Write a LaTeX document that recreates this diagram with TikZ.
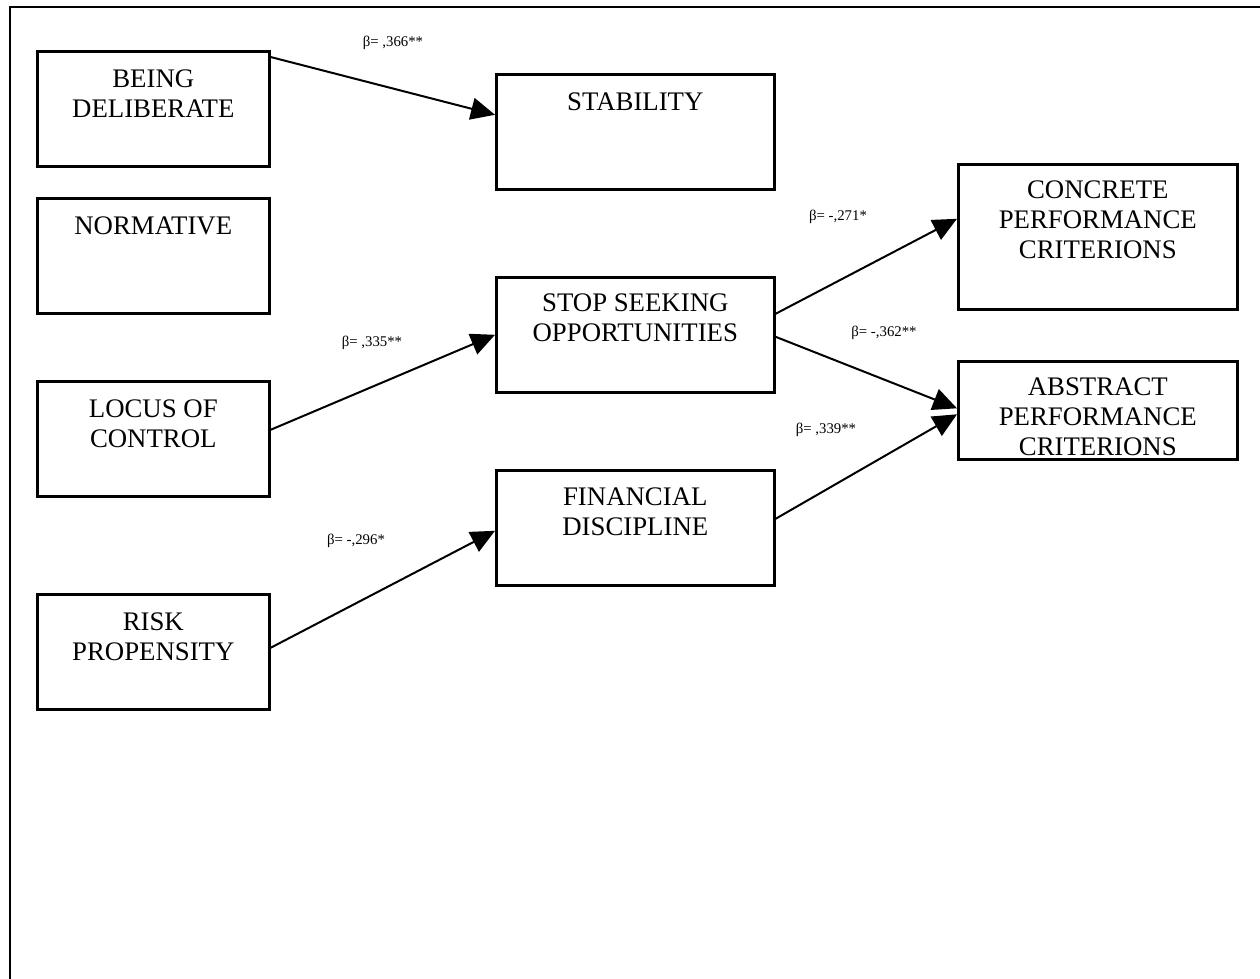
\documentclass[tikz,border=0pt]{standalone}
\usepackage{fontspec}
\setmainfont{Liberation Serif}
\usetikzlibrary{arrows.meta,positioning,calc}

\begin{document}
\begin{tikzpicture}[
        x=0.5pt, y=-0.5pt,
        box/.style={draw, line width=1.3pt, anchor=north west, inner sep=0pt},
        lbox/.style={box, minimum width=116pt, minimum height=57.5pt},
        mbox/.style={box, minimum width=139pt, minimum height=57.5pt},
        txt/.style={align=center, inner sep=0pt, font=\fontsize{13.4}{15}\selectfont},
        beta/.style={inner sep=0pt, font=\fontsize{7.4}{9}\selectfont},
        arrow/.style={-{Triangle[length=12pt, width=11pt]}, line width=1pt}
    ]
        \useasboundingbox (0,0) rectangle (1260,979);
        \draw[line width=1.4pt] (1260,7) -- (10,7) -- (10,979);

        % left column
        \node[lbox] (deli) at (36,50) {};
        \node[lbox] (norm) at (36,197) {};
        \node[lbox] (locus) at (36,380) {};
        \node[lbox] (risk) at (36,593) {};
        % middle column
        \node[mbox] (stab) at (495,73) {};
        \node[mbox] (stop) at (495,276) {};
        \node[mbox] (fin) at (495,469) {};
        % right column
        \node[box, minimum width=139.5pt, minimum height=72.5pt] (conc) at (957,163) {};
        \node[box, minimum width=139.5pt, minimum height=49pt] (abst) at (957,360) {};

        \node[txt, below=9.5pt of deli.north] (deli-t) {BEING\\DELIBERATE};
        \node[txt, below=9.5pt of norm.north] (norm-t) {NORMATIVE};
        \node[txt, below=9.5pt of locus.north] (locus-t) {LOCUS OF\\CONTROL};
        \node[txt, below=9.5pt of risk.north] (risk-t) {RISK\\PROPENSITY};
        \node[txt, below=9.5pt of stab.north] (stab-t) {STABILITY};
        \node[txt, below=8.5pt of stop.north] (stop-t) {STOP SEEKING\\OPPORTUNITIES};
        \node[txt, below=9pt of fin.north] (fin-t) {FINANCIAL\\DISCIPLINE};
        \node[txt, below=8.5pt of conc.north] (conc-t) {CONCRETE\\PERFORMANCE\\CRITERIONS};
        \node[txt, below=8.5pt of abst.north] (abst-t) {ABSTRACT\\PERFORMANCE\\CRITERIONS};

        \draw[arrow] ($(deli.north east)+(0,7)$) -- ($(stab.west)+(0,-17)$);
        \draw[arrow] ($(locus.east)+(0,-9)$) -- (stop.west);
        \draw[arrow] ($(risk.east)+(0,-4)$) -- ($(fin.west)+(0,3)$);
        \draw[arrow] ($(stop.east)+(0,-21)$) -- ($(conc.west)+(0,-18)$);
        \draw[arrow] ($(stop.east)+(0,2)$) -- ($(abst.west)+(0,-2)$);
        \draw[arrow] ($(fin.east)+(0,-9)$) -- ($(abst.west)+(0,4)$);

        \node[beta] (b-deli) at (393,43) {β= ,366**};
        \node[beta] (b-locus) at (372,343) {β= ,335**};
        \node[beta] (b-risk) at (356,541) {β= -,296*};
        \node[beta] (b-conc) at (838,217) {β= -,271*};
        \node[beta] (b-abst) at (884,333) {β= -,362**};
        \node[beta] (b-fin) at (826,430) {β= ,339**};
    \end{tikzpicture}
\end{document}
